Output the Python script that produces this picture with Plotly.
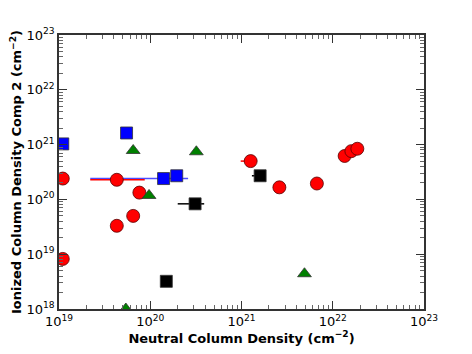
import plotly.graph_objects as go

# Component groups: neutral (x) vs ionized comp 2 (y) column densities, cm^-2
red_x = [1.1e19, 1.1e19, 4.3e19, 4.3e19, 6.5e19, 7.6e19, 1.26e21, 2.6e21, 6.7e21, 1.35e22, 1.6e22, 1.86e22]
red_y = [2.4e20, 8.2e18, 2.28e20, 3.3e19, 5.0e19, 1.33e20, 5.0e20, 1.66e20, 1.95e20, 6.2e20, 7.6e20, 8.4e20]
red_xerr_plus = [0, 0, 4.4e19, 0, 0, 0, 0, 0, 0, 0, 0, 0]
red_xerr_minus = [0, 0, 2.1e19, 0, 0, 0, 2.8e20, 0, 0, 0, 0, 0]

blue_x = [1.1e19, 5.5e19, 1.4e20, 1.95e20]
blue_y = [1.03e21, 1.63e21, 2.4e20, 2.7e20]
blue_xerr_plus = [0, 0, 1.2e20, 0]
blue_xerr_minus = [0, 0, 1.18e20, 0]

green_x = [6.5e19, 3.2e20, 9.7e19, 5.4e19, 4.9e21]
green_y = [7.8e20, 7.4e20, 1.18e20, 1.0e18, 4.4e18]

black_x = [3.1e20, 1.6e21, 1.5e20]
black_y = [8.3e19, 2.7e20, 3.2e18]
black_xerr_plus = [0.8e20, 0, 0]
black_xerr_minus = [1.1e20, 3.0e20, 0]

decades = [1e18, 1e19, 1e20, 1e21, 1e22, 1e23]
decade_labels = ["10<sup>18</sup>", "10<sup>19</sup>", "10<sup>20</sup>",
                 "10<sup>21</sup>", "10<sup>22</sup>", "10<sup>23</sup>"]


def errx(plus, minus, color):
    return dict(type="data", symmetric=False, array=plus, arrayminus=minus,
                color=color, thickness=1.5, width=0)


fig = go.Figure()
fig.add_trace(go.Scatter(x=blue_x, y=blue_y, mode="markers",
                         error_x=errx(blue_xerr_plus, blue_xerr_minus, "#4c4cff"),
                         marker=dict(symbol="square", size=12, color="blue",
                                     line=dict(color="#333333", width=0.8))))
fig.add_trace(go.Scatter(x=red_x, y=red_y, mode="markers",
                         error_x=errx(red_xerr_plus, red_xerr_minus, "red"),
                         marker=dict(symbol="circle", size=13, color="red",
                                     line=dict(color="#550000", width=0.8))))
fig.add_trace(go.Scatter(x=green_x, y=green_y, mode="markers",
                         marker=dict(symbol="triangle-up", size=12, color="green",
                                     line=dict(color="#333333", width=0.8))))
fig.add_trace(go.Scatter(x=black_x, y=black_y, mode="markers",
                         error_x=errx(black_xerr_plus, black_xerr_minus, "black"),
                         marker=dict(symbol="square", size=12, color="black",
                                     line=dict(color="#333333", width=0.8))))

axis_common = dict(type="log", showgrid=False, zeroline=False, automargin=False,
                   showline=True, linecolor="#333333", linewidth=1.5, mirror="allticks",
                   ticks="inside", ticklen=8, tickwidth=1, tickcolor="#333333",
                   tickvals=decades, ticktext=decade_labels,
                   minor=dict(ticks="inside", ticklen=4, tickcolor="#666666",
                              dtick="D1", showgrid=False),
                   tickfont=dict(family="DejaVu Sans", size=13, color="black"))

fig.update_xaxes(range=[19, 23],
                 title=dict(text="<b>Neutral Column Density (cm<sup>\u22122</sup>)</b>",
                            font=dict(family="DejaVu Sans", size=13, color="black"), standoff=4),
                 **axis_common)
fig.update_yaxes(range=[18, 23],
                 title=dict(text="<b>Ionized Column Density Comp 2 (cm<sup>\u22122</sup>)</b>",
                            font=dict(family="DejaVu Sans", size=13, color="black"), standoff=4),
                 **axis_common)

# page body adds an 8px offset, so the figure is sized to sit inside the window
fig.update_layout(width=464, height=346, showlegend=False,
                  plot_bgcolor="white", paper_bgcolor="white",
                  margin=dict(l=51, r=48, t=27, b=45))

fig.write_html("out.html")
